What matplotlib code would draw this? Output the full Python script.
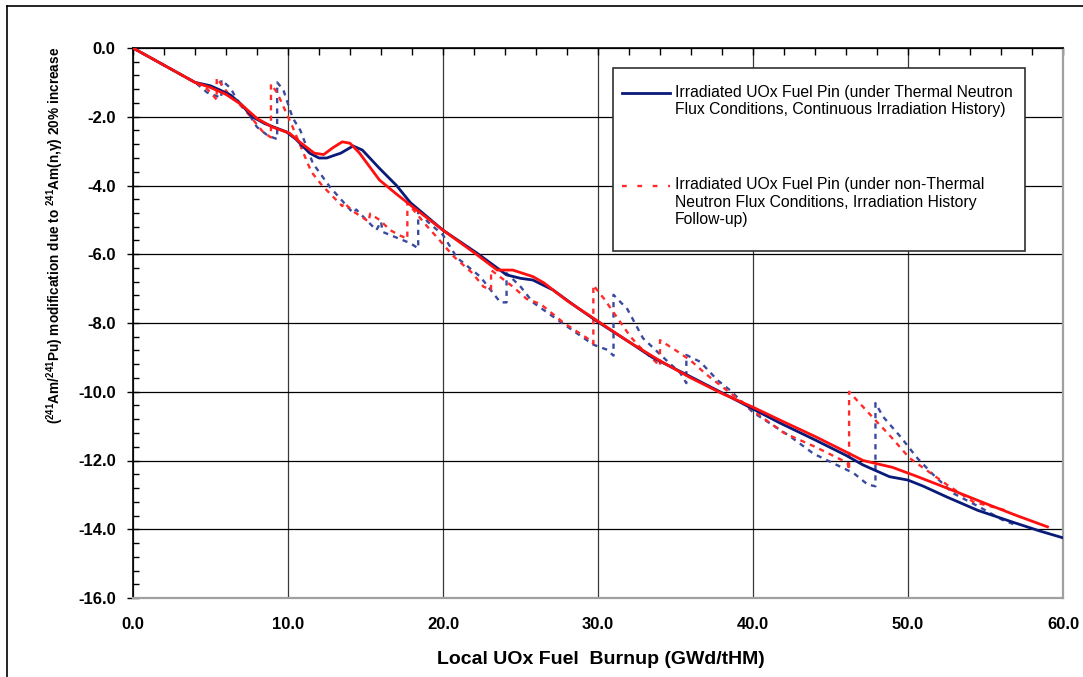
import matplotlib
matplotlib.use("Agg")
import matplotlib.pyplot as plt
from matplotlib.lines import Line2D
from matplotlib.patches import Rectangle
from matplotlib.ticker import MultipleLocator, FormatStrFormatter

plt.rcParams['font.family'] = ['Liberation Sans', 'DejaVu Sans']
plt.rcParams['mathtext.fontset'] = 'custom'
plt.rcParams['mathtext.rm'] = 'Liberation Sans:bold'
plt.rcParams['mathtext.it'] = 'Liberation Sans:bold:italic'
plt.rcParams['mathtext.bf'] = 'Liberation Sans:bold'

# ---- data ----
thermal_x = [0, 2, 4, 5, 5.6, 6.3, 7, 7.7, 8.5, 9.9, 10.5, 11.4, 12, 12.5, 13, 13.4, 14.2,
             14.8, 15.9, 17, 17.9, 20, 22.2, 23.5, 24.1, 25, 25.8, 27.1, 28.5, 30, 32, 33.5,
             35.7, 38.3, 40, 41.7, 44, 46, 47.1, 48.8, 50, 51, 52.5, 54.5, 56.8, 58.5, 60]
thermal_y = [0, -0.5, -1.0, -1.1, -1.22, -1.37, -1.65, -2.0, -2.2, -2.44, -2.65, -3.06, -3.2,
             -3.2, -3.12, -3.06, -2.85, -2.97, -3.5, -4.0, -4.5, -5.3, -5.97, -6.4, -6.6, -6.7,
             -6.75, -7.04, -7.5, -7.97, -8.55, -9.0, -9.5, -10.1, -10.5, -10.9, -11.4, -11.85,
             -12.13, -12.47, -12.57, -12.75, -13.06, -13.45, -13.8, -14.05, -14.25]

thermal2_x = [0, 2, 4, 5, 6, 7, 8, 9, 10.1, 10.8, 11.7, 12.3, 12.9, 13.5, 14, 14.6, 15.9, 17,
              17.9, 20, 22, 23.5, 24.5, 25.8, 26.5, 28, 30, 32, 34, 36, 38, 40, 42, 44, 46,
              47.1, 49, 50.5, 52.5, 55, 57, 59]
thermal2_y = [0, -0.5, -1.0, -1.15, -1.35, -1.65, -2.05, -2.3, -2.48, -2.75, -3.06, -3.1, -2.9,
              -2.73, -2.77, -3.05, -3.84, -4.25, -4.57, -5.3, -5.95, -6.46, -6.46, -6.65, -6.83,
              -7.35, -7.95, -8.55, -9.1, -9.6, -10.05, -10.45, -10.88, -11.3, -11.75, -12.0,
              -12.2, -12.45, -12.8, -13.25, -13.6, -13.93]

nonth_red_x = [0, 2, 4, 4.8, 5.4, 5.4, 6.1, 6.8, 7.5, 8.4, 8.9, 8.9, 9.3, 9.9, 10.3, 11, 11.5,
               12.2, 13.5, 13.6, 14.2, 15.2, 15.3, 15.9, 16.6, 17.2, 17.7, 17.7, 19, 19.6, 20.7,
               21.9, 22.6, 23.1, 23.1, 24.5, 25.4, 26.3, 27.8, 29.3, 29.7, 29.7, 30.4, 31.2,
               32.1, 32.7, 33.6, 34.0, 34.0, 35.2, 36, 37, 38, 40, 42, 44, 46.1, 46.2, 46.2,
               47.1, 48, 48.8, 50.1, 51, 52.5, 54.2, 56.3]
nonth_red_y = [0, -0.5, -1.0, -1.2, -1.5, -0.87, -1.3, -1.6, -1.95, -2.45, -2.6, -1.05, -1.3,
               -1.9, -2.3, -3.06, -3.6, -4.0, -4.6, -4.5, -4.75, -5.05, -4.82, -5.0, -5.3, -5.45,
               -5.55, -4.5, -5.2, -5.5, -6.07, -6.55, -6.94, -7.04, -6.46, -6.94, -7.3, -7.45,
               -8.0, -8.44, -8.6, -6.9, -7.3, -7.82, -8.4, -8.7, -9.08, -9.25, -8.5, -8.85,
               -9.1, -9.5, -9.85, -10.55, -11.2, -11.6, -12.07, -12.28, -10.0, -10.44, -10.88,
               -11.26, -11.93, -12.22, -12.7, -13.2, -13.45]

nonth_blue_x = [0, 2, 4, 4.8, 5.7, 5.7, 6.3, 6.7, 7.3, 8, 8.7, 9.3, 9.3, 9.7, 10.3, 10.8, 11.6,
                12.7, 14.2, 14.4, 15.7, 16.0, 16.1, 17.9, 18.4, 18.4, 19, 20, 20.9, 22.4, 23.7,
                24.1, 24.1, 25, 25.8, 28, 29.7, 30.6, 31.0, 31.0, 31.9, 32.9, 34.4, 35.3, 35.7,
                35.7, 36.6, 37.7, 38.5, 40, 42.4, 43.9, 46.5, 47.4, 47.9, 47.9, 48.4, 49.5,
                50.6, 51.6, 52.9, 54.6, 56.1, 56.8]
nonth_blue_y = [0, -0.5, -1.0, -1.3, -1.45, -0.93, -1.17, -1.5, -1.8, -2.3, -2.55, -2.65, -1.0,
                -1.22, -2.03, -2.4, -3.35, -4.04, -4.8, -4.7, -5.3, -5.05, -5.35, -5.68, -5.83,
                -4.65, -5.05, -5.44, -6.1, -6.65, -7.4, -7.4, -6.55, -6.94, -7.4, -8.1, -8.63,
                -8.78, -8.95, -7.18, -7.6, -8.44, -9.08, -9.45, -9.75, -8.93, -9.13, -9.66,
                -9.95, -10.6, -11.3, -11.8, -12.37, -12.7, -12.75, -10.33, -10.73, -11.3,
                -11.93, -12.4, -12.95, -13.35, -13.73, -13.85]

legend_labels = ["Irradiated UOx Fuel Pin (under Thermal Neutron\nFlux Conditions, Continuous Irradiation History)",
                 "Irradiated UOx Fuel Pin (under non-Thermal\nNeutron Flux Conditions, Irradiation History\nFollow-up)"]
x_ticks = [0, 10, 20, 30, 40, 50, 60]
y_ticks = [0, -2, -4, -6, -8, -10, -12, -14, -16]

NAVY = '#0A1A78'
RED = '#FF1010'
BLUE_D = '#3A4A9E'
RED_D = '#FF2A2A'

fig = plt.figure(figsize=(10.83, 6.77), dpi=100)
ax = fig.add_axes([133/1083, 79/677, 930/1083, 550/677])

ax.plot(nonth_blue_x, nonth_blue_y, color=BLUE_D, lw=1.7, ls=(0, (2.2, 2.2)), zorder=3)
ax.plot(nonth_red_x, nonth_red_y, color=RED_D, lw=1.7, ls=(0, (2.2, 2.2)), zorder=3)
ax.plot(thermal_x, thermal_y, color=NAVY, lw=2.0, zorder=4)
ax.plot(thermal2_x, thermal2_y, color=RED, lw=2.0, zorder=4)

ax.set_xlim(0, 60)
ax.set_ylim(-16, 0)
ax.set_xticks(x_ticks)
ax.set_yticks(y_ticks)
ax.xaxis.set_minor_locator(MultipleLocator(2))
ax.yaxis.set_minor_locator(MultipleLocator(0.4))
ax.xaxis.set_major_formatter(FormatStrFormatter('%.1f'))
ax.yaxis.set_major_formatter(FormatStrFormatter('%.1f'))

ax.grid(True, which='major', axis='y', color='black', lw=0.9, zorder=1)
ax.grid(True, which='major', axis='x', color='#383838', lw=0.9, zorder=1)

ax.tick_params(axis='x', which='both', bottom=False, top=True, labelbottom=True,
               labeltop=False, direction='in', color='black')
ax.tick_params(axis='x', which='minor', length=5, width=1)
ax.tick_params(axis='x', which='major', length=5, width=1, pad=14, labelsize=12)
ax.tick_params(axis='y', which='major', direction='inout', length=9, width=1, pad=8,
               labelsize=12, left=True, right=False)
ax.tick_params(axis='y', which='minor', direction='in', length=4, width=1, left=True, right=False)
for lab in ax.get_xticklabels() + ax.get_yticklabels():
    lab.set_fontweight('bold')

for s in ['left', 'top']:
    ax.spines[s].set_color('black')
    ax.spines[s].set_linewidth(1.2)
for s in ['right', 'bottom']:
    ax.spines[s].set_color('#A0A0A0')
    ax.spines[s].set_linewidth(1.6)

# axis titles
fig.text(601/1083, 1 - 660/677, "Local UOx Fuel  Burnup (GWd/tHM)", ha='center', va='center',
         fontsize=14, fontweight='bold')
fig.text(55/1083, 1 - 47/677,
         r"($^{241}$Am/$^{241}$Pu) modification due to $^{241}$Am(n,γ) 20% increase",
         rotation=90, ha='center', va='top', fontsize=9.8, fontweight='bold')

# legend box (Excel style: handle aligned to first text line)
ax.add_patch(Rectangle((0.516, 0.631), 0.443, 0.3326, transform=ax.transAxes,
                       facecolor='white', edgecolor='#303030', lw=1.2, zorder=6))
ax.add_line(Line2D([0.526, 0.577], [0.919, 0.919], transform=ax.transAxes, color=NAVY,
                   lw=2.0, zorder=7))
ax.add_line(Line2D([0.526, 0.577], [0.750, 0.750], transform=ax.transAxes, color=RED_D,
                   lw=1.7, ls=(0, (2.0, 4.5)), zorder=7))
ax.text(0.583, 0.9335, legend_labels[0], transform=ax.transAxes, ha='left', va='top',
        fontsize=11.3, linespacing=1.2, zorder=7)
ax.text(0.583, 0.765, legend_labels[1], transform=ax.transAxes, ha='left', va='top',
        fontsize=11.3, linespacing=1.2, zorder=7)

# outer frame
fig.add_artist(Line2D([7/1083, 7/1083], [0, 1 - 6/677], transform=fig.transFigure,
                      color='black', lw=1.2))
fig.add_artist(Line2D([7/1083, 1], [1 - 6/677, 1 - 6/677], transform=fig.transFigure,
                      color='black', lw=1.2))

fig.savefig('out.png', dpi=100)
